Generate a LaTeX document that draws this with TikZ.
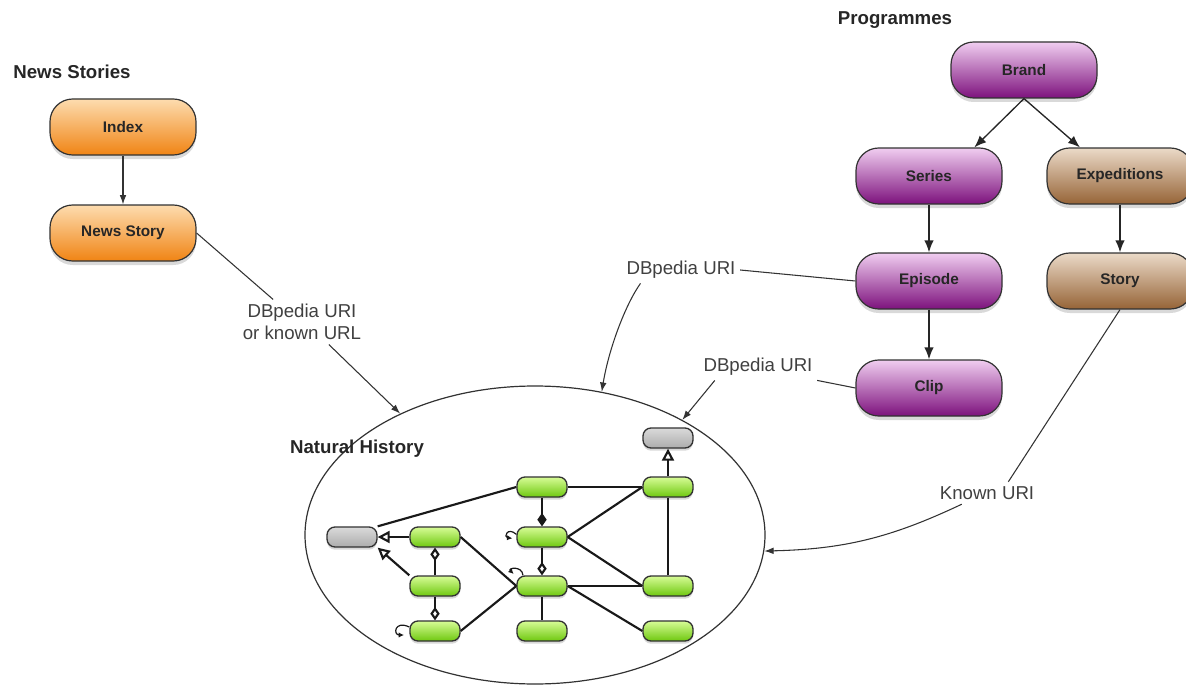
\documentclass[tikz,border=0pt]{standalone}
\usepackage{fontspec}
\setmainfont{Liberation Sans}
\usetikzlibrary{arrows.meta}
\usetikzlibrary{shapes.geometric}
\usetikzlibrary{shadows}

\definecolor{orangetop}{RGB}{253,220,175}
\definecolor{orangebot}{RGB}{240,132,20}
\definecolor{purpletop}{RGB}{240,205,240}
\definecolor{purplebot}{RGB}{125,18,125}
\definecolor{browntop}{RGB}{235,218,200}
\definecolor{brownbot}{RGB}{150,100,55}
\definecolor{greentop}{RGB}{215,252,150}
\definecolor{greenbot}{RGB}{110,200,15}
\definecolor{greytop}{RGB}{218,218,218}
\definecolor{greybot}{RGB}{172,172,172}
\definecolor{edgegrey}{RGB}{50,50,50}

\pgfdeclareradialshading{halo}{\pgfpoint{0bp}{0bp}}{color(0bp)=(white); color(30bp)=(white); color(50bp)=(black!22)}

\tikzset{
	pill/.style={draw=edgegrey, line width=0.9pt, rounded corners=17pt, minimum width=109.5pt, minimum height=42pt,
		font=\fontsize{11.5}{13}\selectfont\bfseries, text=black!85,
		drop shadow={shadow xshift=0pt, shadow yshift=-3pt, opacity=0.3}},
	newsbox/.style={pill, top color=orangetop, bottom color=orangebot},
	progbox/.style={pill, top color=purpletop, bottom color=purplebot},
	expbox/.style={pill, top color=browntop, bottom color=brownbot},
	classbox/.style={draw=edgegrey, line width=1pt, rounded corners=6pt, minimum width=37.5pt, minimum height=15pt, inner sep=0pt,
		drop shadow={shadow xshift=0pt, shadow yshift=-2pt, opacity=0.3}},
	leafbox/.style={classbox, top color=greentop, bottom color=greenbot},
	rootbox/.style={classbox, top color=greytop, bottom color=greybot},
	heading/.style={font=\fontsize{14}{16}\selectfont\bfseries, text=black!85},
	remark/.style={font=\fontsize{14}{16.5}\selectfont, text=black!75, align=center},
	plainlink/.style={draw=black!80, line width=0.8pt},
	arrowlink/.style={plainlink, -{Latex[length=7pt,width=5pt]}},
	treelink/.style={draw=black!85, line width=1pt, -{Latex[length=9pt,width=7pt]}},
	assoc/.style={draw=black!90, line width=1.6pt},
	inherit/.style={assoc, -{Triangle[open,length=9pt,width=9pt]}},
	owns/.style={assoc, -{Diamond[length=10pt,width=7pt]}},
	part/.style={assoc, -{Diamond[open,length=10pt,width=7pt]}},
	selfref/.style={draw=black!90, line width=0.9pt, -{Latex[length=4pt,width=4pt]}}
}

\begin{document}
\begin{tikzpicture}[x=0.75pt,y=-0.75pt]
	\useasboundingbox (0,0) rectangle (1186,685);

	% news stories
	\node[heading] (newstitle) at (72,72) {News Stories};
	\node[newsbox] (index) at (123,127) {Index};
	\node[newsbox] (newsstory) at (123,233) {News Story};
	\node[remark] (lblnews) at (302,322) {DBpedia URI\\or known URL};

	% programmes
	\node[heading] (progtitle) at (895,20) {Programmes};
	\node[progbox] (brand) at (1024,70) {Brand};
	\node[progbox] (series) at (929,176) {Series};
	\node[expbox] (expeditions) at (1120,176) {Expeditions};
	\node[progbox] (episode) at (929,281) {Episode};
	\node[expbox] (story) at (1120,281) {Story};
	\node[progbox] (clip) at (929,388) {Clip};
	\node[remark] (lbldbp1) at (681,270) {DBpedia URI};
	\node[remark] (lbldbp2) at (758,367) {DBpedia URI};
	\node[remark] (lblknown) at (987,493) {Known URI};

	% natural history
	\node[ellipse, draw=edgegrey, line width=0.9pt, shading=halo, minimum width=345pt, minimum height=223.5pt] (nh) at (535,535) {};
	\node[heading] (nhtitle) at (357,449) {Natural History};

	\node[rootbox] (gtop) at (668,438) {};
	\node[rootbox] (gleft) at (352,537) {};
	\node[leafbox] (ca) at (542,487) {};
	\node[leafbox] (cb) at (668,487) {};
	\node[leafbox] (cc) at (435,537) {};
	\node[leafbox] (cd) at (542,537) {};
	\node[leafbox] (ce) at (435,586) {};
	\node[leafbox] (cf) at (542,586) {};
	\node[leafbox] (cg) at (668,586) {};
	\node[leafbox] (ch) at (435,631) {};
	\node[leafbox] (ci) at (542,631) {};
	\node[leafbox] (cj) at (668,631) {};

	\draw[inherit] (cb) -- (gtop);
	\draw[assoc] (ca) -- (cb);
	\draw[assoc] (ca.west) -- (gleft.north east);
	\draw[owns] (ca) -- (cd);
	\draw[assoc] (cd.east) -- (cb.west);
	\draw[assoc] (cd.east) -- (cg.west);
	\draw[part] (cd) -- (cf);
	\draw[inherit] (cc) -- (gleft);
	\draw[inherit] (ce.north west) -- (gleft.south east);
	\draw[part] (ce) -- (cc);
	\draw[part] (ce) -- (ch);
	\draw[assoc] (cc.east) -- (cf.west);
	\draw[assoc] (ch.east) -- (cf.west);
	\draw[assoc] (cf) -- (cg);
	\draw[assoc] (cf.east) -- (cj.west);
	\draw[assoc] (cf) -- (ci);
	\draw[assoc] (cg) -- (cb);
	\draw[selfref] ([yshift=2pt]cd.west) .. controls +(-9,-8) and +(-9,-1) .. ([xshift=-3pt,yshift=-1pt]cd.west);
	\draw[selfref] ([xshift=5pt]cf.north west) .. controls +(-1,-10) and +(-6,-6) .. ([xshift=-2pt,yshift=1pt]cf.north west);
	\draw[selfref] ([yshift=3pt]ch.west) .. controls +(-15,-7) and +(-11,0) .. ([xshift=-4pt,yshift=-3pt]ch.west);

	% connectors
	\draw[arrowlink] (index) -- (newsstory);
	\draw[plainlink] (newsstory.east) -- (lblnews.142);
	\draw[arrowlink] (lblnews.320) -- (nh.138);

	\draw[treelink] (brand.south) -- ([xshift=34pt]series.north);
	\draw[treelink] (brand.south) -- ([xshift=-30pt]expeditions.north);
	\draw[treelink] (series) -- (episode);
	\draw[treelink] (episode) -- (clip);
	\draw[treelink] (expeditions) -- (story);

	\draw[plainlink] (lbldbp1.east) -- (episode.west);
	\draw[arrowlink] ([xshift=14pt]lbldbp1.south west) .. controls +(-15,21) and +(7,-43) .. (nh.65);
	\draw[plainlink] (lbldbp2.south east) -- (clip.west);
	\draw[arrowlink] ([xshift=12pt]lbldbp2.south west) -- (nh.38);
	\draw[plainlink] (story.south) -- ([xshift=16pt]lblknown.north);
	\draw[arrowlink] ([xshift=20pt]lblknown.south west) to[bend left=12] (nh.-4);
\end{tikzpicture}
\end{document}
